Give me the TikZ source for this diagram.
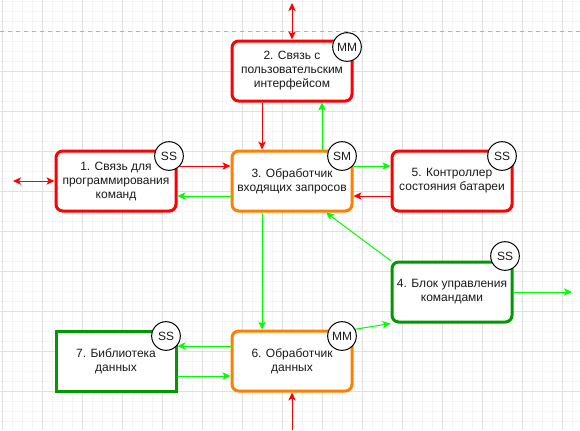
\documentclass[tikz,border=0pt]{standalone}
\usepackage{fontspec}
\setmainfont{Liberation Sans}
\usetikzlibrary{arrows.meta,calc}
\definecolor{gminor}{HTML}{F4F4F4}
\definecolor{gmajor}{HTML}{E0E0E0}
\definecolor{cred}{HTML}{FF0000}
\definecolor{cgreen}{HTML}{00FF00}
\definecolor{corange}{HTML}{FF8000}
\definecolor{cdgreen}{HTML}{009900}
\definecolor{txt}{HTML}{1A1A1A}
\tikzset{
  box/.style={draw, line width=2.25pt, fill=white, minimum width=90pt, minimum height=45pt,
    inner sep=0pt, align=center, font=\fontsize{9}{10.5}\selectfont, text=txt},
  rbox/.style={box, rounded corners=5pt},
  tag/.style={circle, draw=black, line width=0.75pt, fill=white, minimum size=21.5pt,
    inner sep=0pt, font=\fontsize{9}{10}\selectfont, text=txt},
  tip/.tip={Stealth[length=6pt,width=5.5pt,inset=1.5pt]},
  conn/.style={line width=0.75pt, -tip},
  dconn/.style={line width=0.75pt, tip-tip},
  gridminor/.style={gminor, line width=0.75pt},
  gridmajor/.style={gmajor, line width=0.75pt},
}
\begin{document}
\begin{tikzpicture}[x=0.75pt, y=-0.75pt]
\useasboundingbox (0,0) rectangle (580,430);
\fill[white] (0,0) rectangle (580,430);
% grid
\foreach \gx in {2,12,...,572} \draw[gridminor] (\gx,0) -- (\gx,430);
\foreach \gy in {1,11,...,421} \draw[gridminor] (0,\gy) -- (580,\gy);
\foreach \gx in {2,42,...,562} \draw[gridmajor] (\gx,0) -- (\gx,430);
\foreach \gy in {71,111,...,391} \draw[gridmajor] (0,\gy) -- (580,\gy);
\draw[gray!60, line width=0.75pt, dash pattern=on 3pt off 3pt] (0,31) -- (580,31);

% nodes
\node[rbox, draw=cred] (n2) at (292,71) {2. Связь с\\пользовательским\\интерфейсом};
\node[rbox, draw=cred] (n1) at (116,181) {1. Связь для\\программирования\\команд};
\node[rbox, draw=corange] (n3) at (292,181) {3. Обработчик\\входящих запросов};
\node[rbox, draw=cred] (n5) at (452,181) {5. Контроллер\\состояния батареи};
\node[rbox, draw=cdgreen] (n4) at (452,292) {4. Блок управления\\командами};
\node[box, draw=cdgreen] (n7) at (116,361) {7. Библиотека\\данных};
\node[rbox, draw=corange] (n6) at (292,361) {6. Обработчик\\данных};

% free ends
\coordinate (top) at (292,3);
\coordinate (left) at (13,181);
\coordinate (right) at (572,292);
\coordinate (bottom) at (292,430);

% connectors
\draw[dconn, cred] (top) -- (n2.north);
\draw[dconn, cred] (left) -- (n1.west);
\draw[conn, cred] ($(n2.south)+(-30,0)$) -- ($(n3.north)+(-30,0)$);
\draw[conn, cgreen] ($(n3.north)+(30,0)$) -- ($(n2.south)+(30,0)$);
\draw[conn, cred] ($(n1.east)+(0,-15)$) -- ($(n3.west)+(0,-15)$);
\draw[conn, cgreen] ($(n3.west)+(0,15)$) -- ($(n1.east)+(0,15)$);
\draw[conn, cgreen] ($(n3.east)+(0,-15)$) -- ($(n5.west)+(0,-15)$);
\draw[conn, cred] ($(n5.west)+(0,15)$) -- ($(n3.east)+(0,15)$);
\draw[conn, cgreen] ($(n3.south)+(-30,0)$) -- ($(n6.north)+(-30,0)$);
\draw[conn, cgreen] ($(n4.north west)+(0,0)$) -- ($(n3.south)+(34,0)$);
\draw[conn, cgreen] (n6.north east) -- (n4.south west);
\draw[conn, cgreen] (n4.east) -- (right);
\draw[conn, cgreen] ($(n6.west)+(0,-15)$) -- ($(n7.east)+(0,-15)$);
\draw[conn, cgreen] ($(n7.east)+(0,15)$) -- ($(n6.west)+(0,15)$);
\draw[conn, cred] (bottom) -- (n6.south);

% tags
\node[tag] (t2) at (347,47) {MM};
\node[tag] (t1) at (169,156) {SS};
\node[tag] (t3) at (342,156) {SM};
\node[tag] (t5) at (502,156) {SS};
\node[tag] (t4) at (505,256) {SS};
\node[tag] (t7) at (166,336) {SS};
\node[tag] (t6) at (342,336) {MM};
\end{tikzpicture}
\end{document}
